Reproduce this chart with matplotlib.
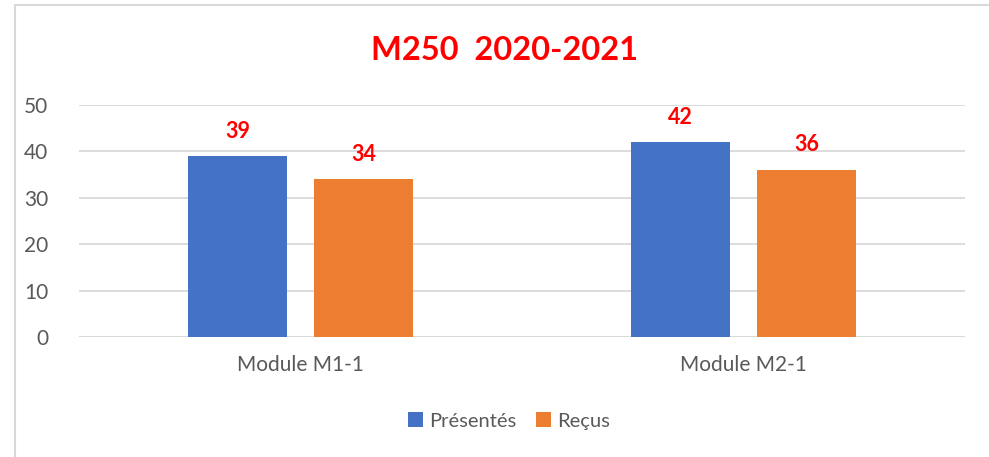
import numpy as np
import matplotlib
matplotlib.use("Agg")
import matplotlib.pyplot as plt
from matplotlib.patches import Rectangle

categories = ["Module M1-1", "Module M2-1"]
presentes = [39, 42]
recus = [34, 36]
series_names = ["Présentés", "Reçus"]
title = "M250  2020-2021"

plt.rcParams["font.family"] = ["Lato", "DejaVu Sans"]
BLUE, ORANGE, GRID, TXT = "#4472C4", "#ED7D31", "#D9D9D9", "#595959"

fig = plt.figure(figsize=(9.89, 4.57), dpi=100)
# outer chart frame
fig.patches.append(Rectangle((15 / 989, -0.05), 1.0, 1 - 5 / 457 + 0.05, transform=fig.transFigure,
                             fill=False, edgecolor=GRID, lw=1.5))
ax = fig.add_axes([79 / 989, 1 - 337 / 457, 886 / 989, 232 / 457])

x = np.arange(len(categories))
w, gap = 0.223, 0.061
off = (w + gap) / 2
b1 = ax.bar(x - off, presentes, w, color=BLUE, label=series_names[0], zorder=3)
b2 = ax.bar(x + off, recus, w, color=ORANGE, label=series_names[1], zorder=3)
for bars in (b1, b2):
    for r in bars:
        ax.annotate(f"{r.get_height():.0f}", (r.get_x() + r.get_width() / 2, r.get_height()),
                    xytext=(0, 18), textcoords="offset points", ha="center", va="center",
                    color="red", fontsize=15.5, fontweight="bold")

ax.set_xlim(-0.5, 1.5)
ax.set_ylim(0, 50)
ax.set_yticks(range(0, 51, 10))
ax.set_xticks(x, categories)
ax.yaxis.grid(True, color=GRID, lw=1.3, zorder=0)
for s in ax.spines.values():
    s.set_visible(False)
ax.axhline(0, color=GRID, lw=1.5, zorder=2)
ax.tick_params(length=0, labelsize=15, labelcolor=TXT)
ax.tick_params(axis="y", pad=22)
ax.tick_params(axis="x", pad=13)

fig.text(505 / 989, 1 - 50 / 457, title, ha="center", va="center", color="red",
         fontsize=23.5, fontweight="bold")
fig.legend(handles=[b1, b2], loc="center", bbox_to_anchor=(509 / 989, 1 - 421 / 457), ncol=2,
           frameon=False, fontsize=14.5, labelcolor=TXT, handlelength=0.75, handleheight=0.75,
           handletextpad=0.3, columnspacing=1.0)

fig.savefig("out.png", dpi=100)
